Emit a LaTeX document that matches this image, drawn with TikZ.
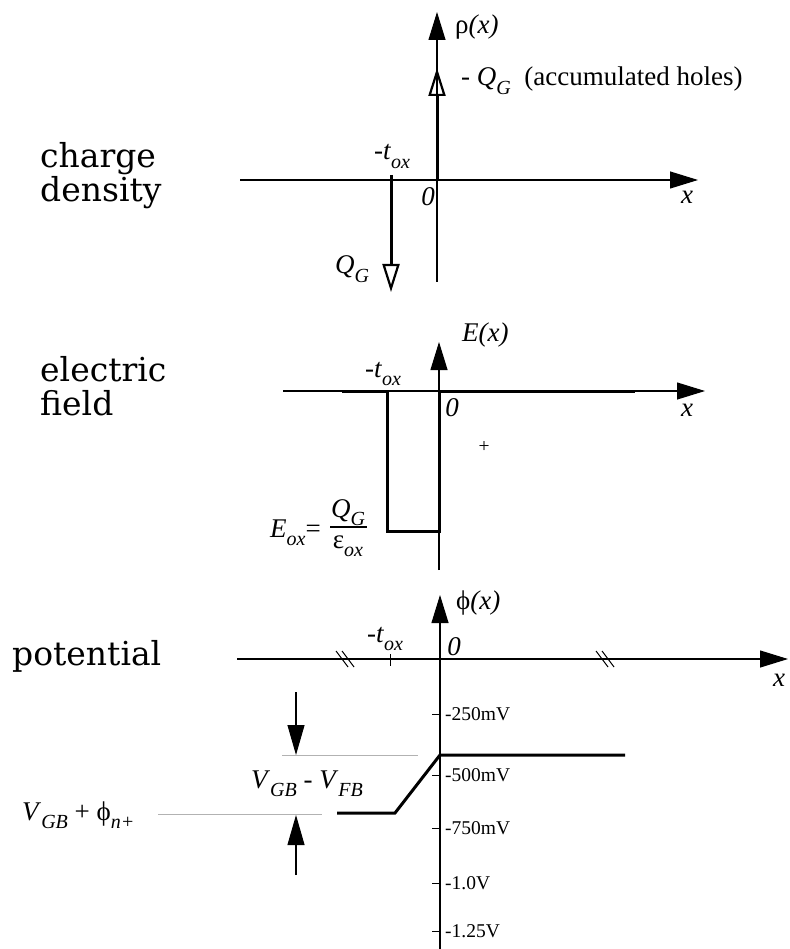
\documentclass[tikz,border=0pt]{standalone}
\usepackage{fontspec}
\setmainfont{Liberation Serif}
\newfontfamily\bigfont{DejaVu Serif}
\usetikzlibrary{arrows.meta,positioning}
\tikzset{
    axis/.style={line width=1.1pt,-{Triangle[length=28pt,width=17pt]}},
    profile/.style={line width=3pt},
    charge/.style={line width=3pt,-{Triangle[open,length=28pt,width=17pt,line width=2.2pt]}},
    guide/.style={black!30,line width=1pt},
    dimarrow/.style={line width=1.1pt,-{Triangle[length=30pt,width=17pt]}},
    lbl/.style={inner sep=0pt,font=\fontsize{27}{30}\selectfont},
    ticklbl/.style={inner sep=0pt,anchor=west,font=\fontsize{19.5}{22}\selectfont},
    heading/.style={inner sep=0pt,anchor=west,align=left,font=\bigfont\fontsize{33}{34}\selectfont}
}
\newcommand{\ix}[1]{\textit{#1}}
\newcommand{\subs}[1]{\raisebox{-0.3em}{\fontsize{20}{22}\selectfont\itshape #1}}

\begin{document}
\begin{tikzpicture}[x=1pt,y=-1pt]
    \useasboundingbox (0,0) rectangle (789,949);

    % headings
    \node[heading] (charge title)    at (40,176)  {charge\\density};
    \node[heading] (field title)     at (40,386)  {electric\\field};
    \node[heading] (potential title) at (12,656)  {potential};

    % charge density
    \coordinate (rho bot)  at (437,282);
    \coordinate (rho top)  at (437,12);
    \coordinate (cd left)  at (240,180);
    \coordinate (cd right) at (698,180);
    \coordinate (cd zero)  at (437,180);
    \coordinate (hole tip) at (437,68);
    \coordinate (cd tox)   at (391,175);
    \coordinate (gate tip) at (391,292);
    \draw[axis]   (rho bot) -- (rho top);
    \draw[axis]   (cd left) -- (cd right);
    \draw[charge] (cd zero) -- (hole tip);
    \draw[charge] (cd tox) -- (gate tip);

    \node[lbl,anchor=west]      (rho lbl)   at (455,27)  {ρ\ix{(x)}};
    \node[lbl,anchor=base west] (holes lbl) at (461,86)  {- \ix{Q}\subs{G}\ \ (accumulated holes)};
    \node[lbl,anchor=base]      (tox lbl1)  at (392,160) {-\ix{t}\subs{ox}};
    \node[lbl]                  (zero lbl1) at (428,197) {\ix{0}};
    \node[lbl]                  (x lbl1)    at (687,197) {\ix{x}};
    \node[lbl,anchor=base]      (qg lbl)    at (352,274) {\ix{Q}\subs{G}};

    % electric field
    \coordinate (e bot)    at (439,570);
    \coordinate (e top)    at (439,342);
    \coordinate (ef left)  at (283,391);
    \coordinate (ef right) at (705,391);
    \draw[axis] (e bot) -- (e top);
    \draw[axis] (ef left) -- (ef right);
    \draw[profile] (342,391) -- (387,391) -- (387,531) -- (439,531) -- (439,391) -- (635,391);

    \node[lbl,anchor=west]       (e lbl)     at (462,335) {\ix{E(x)}};
    \node[lbl,anchor=base]       (tox lbl2)  at (383,377) {-\ix{t}\subs{ox}};
    \node[lbl]                   (zero lbl2) at (452,408) {\ix{0}};
    \node[lbl]                   (x lbl2)    at (687,410) {\ix{x}};
    \node[ticklbl,anchor=center] (plus lbl)  at (484,447) {+};
    \node[lbl,anchor=base east]  (eox lbl)   at (321,537) {\ix{E}\subs{ox}=};
    \node[lbl,anchor=base]       (frac num)  at (348,517) {\ix{Q}\subs{G}};
    \node[lbl,anchor=base]       (frac den)  at (348,548) {ε\subs{ox}};
    \coordinate (bar l) at (330,527);
    \coordinate (bar r) at (367,527);
    \draw[line width=1.1pt] (bar l) -- (bar r);

    % potential
    \coordinate (phi bot)   at (440,949);
    \coordinate (phi top)   at (440,595);
    \coordinate (pot left)  at (237,659);
    \coordinate (pot right) at (788,659);
    \draw[axis] (phi bot) -- (phi top);
    \draw[axis] (pot left) -- (pot right);
    \foreach \bx in {345,605}
        \foreach \dx in {-3,3}
            \draw[line width=1pt] (\bx+\dx-6,651) -- (\bx+\dx+6,667);
    \draw[line width=1pt] (390,654) -- (390,666);
    \foreach \ty/\tl in {714/-250mV,775/-500mV,828/-750mV,883/-1.0V,931/-1.25V}{
        \draw[line width=1pt] (432,\ty) -- (440,\ty);
        \node[ticklbl] (tick \ty) at (445,\ty) {\tl};
    }
    \draw[profile] (337,813) -- (395,813) -- (440,755) -- (625,755);

    \coordinate (guide hi l) at (282,755);
    \coordinate (guide hi r) at (418,755);
    \coordinate (guide lo l) at (158,814);
    \coordinate (guide lo r) at (322,814);
    \draw[guide] (guide hi l) -- (guide hi r);
    \draw[guide] (guide lo l) -- (guide lo r);
    \coordinate (dim top) at (296,692);
    \coordinate (dim hi)  at (296,755);
    \coordinate (dim bot) at (296,875);
    \coordinate (dim lo)  at (296,815);
    \draw[dimarrow] (dim top) -- (dim hi);
    \draw[dimarrow] (dim bot) -- (dim lo);

    \node[lbl,anchor=west]      (phi lbl)   at (456,603) {ϕ\ix{(x)}};
    \node[lbl,anchor=base]      (tox lbl3)  at (385,642) {-\ix{t}\subs{ox}};
    \node[lbl]                  (zero lbl3) at (454,647) {\ix{0}};
    \node[lbl]                  (x lbl3)    at (779,680) {\ix{x}};
    \node[lbl,anchor=base]      (vdiff lbl) at (307,788) {\ix{V}\subs{GB} - \ix{V}\subs{FB}};
    \node[lbl,anchor=base west] (vsum lbl)  at (22,820)  {\ix{V}\subs{GB} + ϕ\subs{n+}};
\end{tikzpicture}
\end{document}
